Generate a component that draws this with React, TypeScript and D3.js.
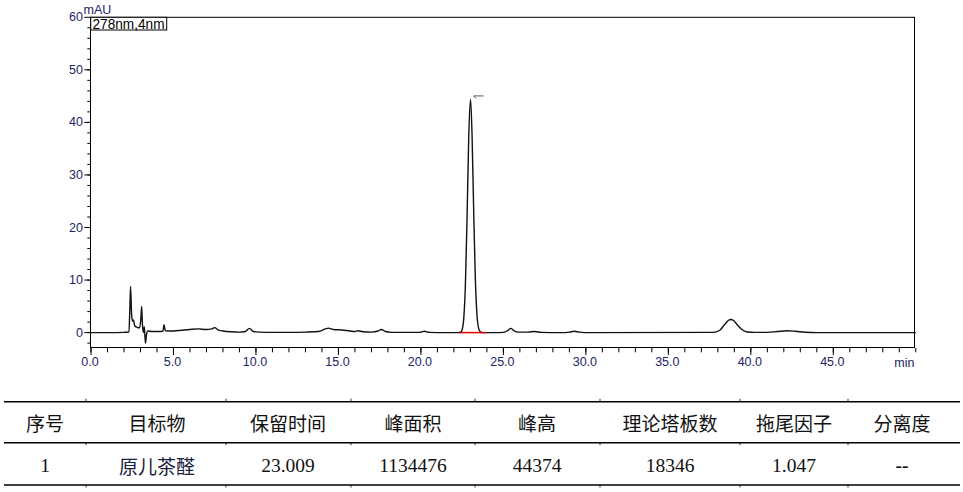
import React from "react";
import * as d3 from "d3";

// Chromatogram trace (time in min, absorbance in mAU)
const traceTime = [
  0, 1.0, 2.0, 2.3, 2.35, 2.4, 2.46, 2.52, 2.58, 2.65, 2.8, 2.95, 3.03, 3.07, 3.12, 3.18, 3.23, 3.3, 3.36, 3.45, 3.7, 4.0, 4.36, 4.43, 4.5, 4.6, 5.0, 5.5, 6.0, 6.5, 7.0, 7.3, 7.5, 7.7, 8.0, 8.5, 9.0, 9.35, 9.6, 9.85, 10.2, 11, 12, 13, 13.8, 14.2, 14.4, 14.7, 15.2, 15.7, 16.0, 16.2, 16.5, 17.0, 17.4, 17.6, 17.85, 18.2, 19.0, 19.9, 20.2, 20.5, 21.5, 22.3, 22.4, 22.5, 22.6, 22.7, 22.8, 22.9, 23.01, 23.1, 23.2, 23.3, 23.4, 23.5, 23.6, 23.75, 24.5, 25.0, 25.25, 25.45, 25.65, 25.9, 26.5, 26.9, 27.3, 28.5, 29.0, 29.3, 29.6, 30.2, 37.7, 38.1, 38.4, 38.65, 38.8, 38.95, 39.2, 39.5, 39.8, 40.2, 41.0, 41.6, 42.2, 42.7, 43.3, 44, 50,
];
const traceValue = [
  0.0, 0.0, 0.05, 0.1, 4.0, 8.8, 3.5, 2.2, 2.4, 1.3, 1.0, 0.9, 3.0, 5.0, 1.5, 0.0, 1.1, -2.0, -0.5, 0.3, 0.2, 0.2, 0.25, 1.5, 0.4, 0.3, 0.3, 0.45, 0.6, 0.7, 0.6, 0.7, 0.95, 0.5, 0.3, 0.15, 0.1, 0.2, 0.8, 0.2, 0.1, 0.05, 0.05, 0.1, 0.2, 0.7, 0.85, 0.6, 0.5, 0.3, 0.2, 0.35, 0.15, 0.1, 0.3, 0.6, 0.2, 0.05, 0.05, 0.05, 0.25, 0.05, 0.0, 0.0, 0.09, 0.59, 2.8, 9.4, 22.2, 37.3, 44.37, 37.6, 23.0, 10.2, 3.3, 0.8, 0.15, 0.0, 0.0, 0.05, 0.35, 0.8, 0.35, 0.1, 0.1, 0.2, 0.05, 0.0, 0.1, 0.25, 0.1, 0.0, 0.05, 0.4, 1.5, 2.35, 2.5, 2.3, 1.4, 0.5, 0.12, 0.05, 0.05, 0.2, 0.35, 0.25, 0.08, 0.0, 0.0,
];

const xMajorTicks = [0, 5, 10, 15, 20, 25, 30, 35, 40, 45];
const xMinorTicks = d3.range(0, 51, 1);
const yMajorTicks = [0, 10, 20, 30, 40, 50, 60];
const yMinorTicks = d3.range(-2, 60, 2);

const peakStart = 22.35;
const peakEnd = 23.95;
const peakApex = 23.01;
const peakHeight = 44.37;

const channelLabel = "278nm,4nm";
const yUnit = "mAU";
const xUnit = "min";

const tableHeaders = ["序号", "目标物", "保留时间", "峰面积", "峰高", "理论塔板数", "拖尾因子", "分离度"];
const tableRow = ["1", "原儿茶醛", "23.009", "1134476", "44374", "18346", "1.047", "--"];
const columnCenters = [45, 157, 288, 413, 537, 670, 794, 902];
const columnSeparators = [86, 226, 351, 475, 600, 740, 848];

export default function App() {
  const x = d3.scaleLinear().domain([0, 45]).range([91, 833.3]);
  const y = d3.scaleLinear().domain([0, 60]).range([332.6, 17.3]);
  const frame = { left: 90.5, right: 914.5, top: 17.3, bottom: 347.5 };
  const axisColor = "#1c2566";

  const points: [number, number][] = traceTime.map((t, i) => [t, traceValue[i]]);
  const line = d3
    .line<[number, number]>()
    .x((d) => x(d[0]))
    .y((d) => y(d[1]))
    .curve(d3.curveMonotoneX);

  const fmt = d3.format(".1f");
  const lineYs = [401.7, 442.7, 485];

  return (
    <svg
      width={963}
      height={492}
      style={{ position: "absolute", left: 0, top: 0, background: "#fff" }}
    >
      <rect x={0} y={0} width={963} height={492} fill="#fff" />
      {/* frame */}
      <rect
        x={frame.left}
        y={frame.top}
        width={frame.right - frame.left}
        height={frame.bottom - frame.top}
        fill="none"
        stroke="#000"
        strokeWidth={1}
      />
      {/* y ticks */}
      {yMinorTicks.map((v) => (
        <line key={"ym" + v} x1={87.3} x2={frame.left} y1={y(v)} y2={y(v)} stroke="#000" strokeWidth={1} />
      ))}
      {yMajorTicks.map((v) => (
        <g key={"yM" + v}>
          <line x1={84.3} x2={frame.left} y1={y(v)} y2={y(v)} stroke="#000" strokeWidth={1} />
          <text
            x={83}
            y={y(v)}
            textAnchor="end"
            dominantBaseline="central"
            fontFamily="'Liberation Sans', Arial, sans-serif"
            fontSize={12.5}
            fill={axisColor}
          >
            {v}
          </text>
        </g>
      ))}
      <text x={83.5} y={14} fontFamily="'Liberation Sans', Arial, sans-serif" fontSize={12.5} fill={axisColor}>
        {yUnit}
      </text>
      {/* x ticks */}
      {xMinorTicks.map((v) => (
        <line key={"xm" + v} x1={x(v)} x2={x(v)} y1={348} y2={352.3} stroke="#000" strokeWidth={1} />
      ))}
      {xMajorTicks.map((v) => (
        <g key={"xM" + v}>
          <line x1={x(v)} x2={x(v)} y1={frame.bottom} y2={355} stroke="#000" strokeWidth={1} />
          <text
            x={x(v) - 1}
            y={366}
            textAnchor="middle"
            fontFamily="'Liberation Sans', Arial, sans-serif"
            fontSize={12.5}
            fill={axisColor}
          >
            {fmt(v)}
          </text>
        </g>
      ))}
      <text
        x={914.5}
        y={366.5}
        textAnchor="end"
        fontFamily="'Liberation Sans', Arial, sans-serif"
        fontSize={12.5}
        fill={axisColor}
      >
        {xUnit}
      </text>
      {/* channel label */}
      <rect x={90.7} y={17.3} width={76} height={12.7} fill="#fff" stroke="#000" strokeWidth={1} />
      <text
        x={92.5}
        y={28.6}
        fontFamily="'Liberation Sans', Arial, sans-serif"
        fontSize={14}
        textLength={72}
        lengthAdjust="spacingAndGlyphs"
        fill="#000"
      >
        {channelLabel}
      </text>
      {/* trace */}
      <path d={line(points) || ""} fill="none" stroke="#111" strokeWidth={1.4} strokeLinejoin="round" />
      {/* integration baseline */}
      <line x1={x(peakStart)} x2={x(peakEnd)} y1={y(0)} y2={y(0)} stroke="#e00000" strokeWidth={1.5} />
      {/* peak marker */}
      <g stroke="#556" strokeWidth={1}>
        <line x1={x(peakApex) + 3} x2={x(peakApex) + 13} y1={y(peakHeight) - 3.5} y2={y(peakHeight) - 3.5} />
        <line x1={x(peakApex) + 3} x2={x(peakApex) + 5.5} y1={y(peakHeight) - 3.5} y2={y(peakHeight) - 1} />
      </g>
      {/* table */}
      {lineYs.map((ly, i) => (
        <line key={"tl" + i} x1={4} x2={960} y1={ly} y2={ly} stroke="#000" strokeWidth={1.4} />
      ))}
      {lineYs.map((ly, i) =>
        columnSeparators.map((cx) => (
          <line
            key={"ts" + i + "-" + cx}
            x1={cx}
            x2={cx}
            y1={i === 0 ? ly - 3 : ly}
            y2={i === 0 ? ly : ly + 2.5}
            stroke="#000"
            strokeWidth={0.8}
          />
        ))
      )}
      {tableHeaders.map((h, i) => (
        <text
          key={"th" + i}
          x={columnCenters[i]}
          y={422.5}
          textAnchor="middle"
          dominantBaseline="central"
          fontFamily="'Noto Sans CJK SC', sans-serif"
          fontSize={19}
          fill="#111"
        >
          {h}
        </text>
      ))}
      {tableRow.map((c, i) => (
        <text
          key={"td" + i}
          x={columnCenters[i]}
          y={465.5}
          textAnchor="middle"
          dominantBaseline="central"
          fontFamily={i === 1 ? "'Noto Sans CJK SC', sans-serif" : "'Liberation Serif', 'Times New Roman', serif"}
          fontSize={i === 1 ? 19 : 19.5}
          fontWeight={i === 7 ? "bold" : "normal"}
          fill={i === 1 ? "#1a2040" : "#111"}
        >
          {c}
        </text>
      ))}
    </svg>
  );
}
